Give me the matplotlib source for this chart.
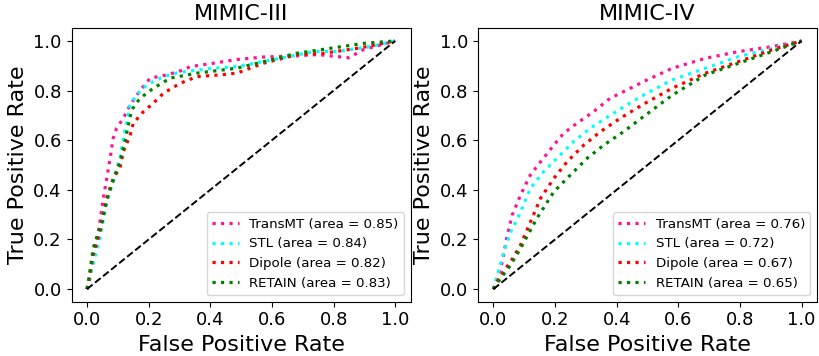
import matplotlib.pyplot as plt

# ROC points (false positive rate, true positive rate)
# MIMIC-III
m3_transmt_fpr = [0, 0.0075, 0.02, 0.037, 0.053, 0.064, 0.075, 0.085, 0.096, 0.118, 0.14, 0.172, 0.205, 0.259, 0.313, 0.334, 0.41, 0.486, 0.572, 0.68, 0.75, 0.85, 0.897, 1.0]
m3_transmt_tpr = [0, 0.03, 0.137, 0.23, 0.366, 0.446, 0.527, 0.608, 0.648, 0.688, 0.742, 0.80, 0.85, 0.863, 0.883, 0.896, 0.91, 0.925, 0.935, 0.94, 0.945, 0.932, 0.965, 1.0]
m3_stl_fpr = [0, 0.01, 0.042, 0.064, 0.085, 0.107, 0.118, 0.129, 0.14, 0.161, 0.194, 0.248, 0.302, 0.41, 0.486, 0.627, 0.735, 0.81, 0.92, 1.0]
m3_stl_tpr = [0, 0.056, 0.204, 0.352, 0.433, 0.527, 0.608, 0.675, 0.742, 0.782, 0.823, 0.856, 0.874, 0.89, 0.896, 0.93, 0.957, 0.957, 0.977, 1.0]
m3_dipole_fpr = [0, 0.005, 0.02, 0.042, 0.064, 0.085, 0.107, 0.118, 0.14, 0.15, 0.183, 0.215, 0.248, 0.302, 0.356, 0.432, 0.486, 0.572, 0.68, 0.767, 0.876, 0.92, 1.0]
m3_dipole_tpr = [0, 0.03, 0.137, 0.23, 0.366, 0.446, 0.487, 0.554, 0.62, 0.668, 0.715, 0.749, 0.789, 0.829, 0.856, 0.863, 0.87, 0.91, 0.944, 0.95, 0.97, 0.98, 1.0]
m3_retain_fpr = [0, 0.005, 0.02, 0.048, 0.069, 0.091, 0.107, 0.123, 0.134, 0.145, 0.172, 0.215, 0.27, 0.356, 0.486, 0.572, 0.68, 0.789, 0.897, 1.0]
m3_retain_tpr = [0, 0.03, 0.164, 0.271, 0.379, 0.46, 0.513, 0.594, 0.661, 0.722, 0.769, 0.809, 0.85, 0.87, 0.89, 0.916, 0.95, 0.97, 0.99, 1.0]

# MIMIC-IV
m4_transmt_fpr = [0, 0.029, 0.045, 0.061, 0.088, 0.12, 0.153, 0.196, 0.228, 0.271, 0.325, 0.379, 0.433, 0.487, 0.581, 0.688, 0.796, 0.904, 1.0]
m4_transmt_tpr = [0, 0.11, 0.218, 0.298, 0.379, 0.46, 0.513, 0.58, 0.628, 0.668, 0.715, 0.769, 0.802, 0.836, 0.89, 0.93, 0.957, 0.977, 1.0]
m4_stl_fpr = [0, 0.007, 0.034, 0.056, 0.088, 0.12, 0.163, 0.206, 0.26, 0.314, 0.379, 0.433, 0.487, 0.581, 0.688, 0.796, 0.904, 1.0]
m4_stl_tpr = [0, 0.03, 0.15, 0.23, 0.31, 0.406, 0.473, 0.527, 0.594, 0.648, 0.70, 0.742, 0.782, 0.843, 0.89, 0.937, 0.97, 1.0]
m4_dipole_fpr = [0, 0.023, 0.056, 0.088, 0.12, 0.153, 0.196, 0.239, 0.293, 0.347, 0.411, 0.487, 0.581, 0.688, 0.796, 0.904, 1.0]
m4_dipole_tpr = [0, 0.056, 0.11, 0.177, 0.27, 0.366, 0.446, 0.513, 0.58, 0.634, 0.688, 0.745, 0.81, 0.87, 0.917, 0.964, 1.0]
m4_retain_fpr = [0, 0.023, 0.056, 0.088, 0.141, 0.196, 0.25, 0.304, 0.358, 0.422, 0.487, 0.581, 0.688, 0.796, 0.904, 1.0]
m4_retain_tpr = [0, 0.043, 0.097, 0.164, 0.285, 0.392, 0.46, 0.527, 0.58, 0.634, 0.695, 0.782, 0.863, 0.91, 0.957, 1.0]

models = ['TransMT', 'STL', 'Dipole', 'RETAIN']
colors = ['deeppink', 'cyan', 'red', 'green']
m3_auc = [0.85, 0.84, 0.82, 0.83]
m4_auc = [0.76, 0.72, 0.67, 0.65]

panels = [
    ('MIMIC-III', [(m3_transmt_fpr, m3_transmt_tpr), (m3_stl_fpr, m3_stl_tpr),
                   (m3_dipole_fpr, m3_dipole_tpr), (m3_retain_fpr, m3_retain_tpr)], m3_auc),
    ('MIMIC-IV', [(m4_transmt_fpr, m4_transmt_tpr), (m4_stl_fpr, m4_stl_tpr),
                  (m4_dipole_fpr, m4_dipole_tpr), (m4_retain_fpr, m4_retain_tpr)], m4_auc),
]

fig = plt.figure(figsize=(8.19, 3.56), dpi=100)
lefts = [0.0874, 0.5836]
for (title, curves, aucs), left in zip(panels, lefts):
    ax = fig.add_axes([left, 0.153, 0.414, 0.767])
    for (fpr, tpr), name, c, auc in zip(curves, models, colors, aucs):
        ax.plot(fpr, tpr, linestyle=':', color=c, lw=2.3,
                label='%s (area = %.2f)' % (name, auc))
    ax.plot([0, 1], [0, 1], 'k--', lw=1.4)
    ax.set_title(title, fontsize=16)
    ax.set_xlabel('False Positive Rate', fontsize=16)
    ax.set_ylabel('True Positive Rate', fontsize=16)
    ax.tick_params(labelsize=13)
    ax.set_xticks([0, 0.2, 0.4, 0.6, 0.8, 1.0])
    ax.set_yticks([0, 0.2, 0.4, 0.6, 0.8, 1.0])
    ax.legend(loc='lower right', fontsize=9.6)

plt.savefig('out.png', dpi=100)
